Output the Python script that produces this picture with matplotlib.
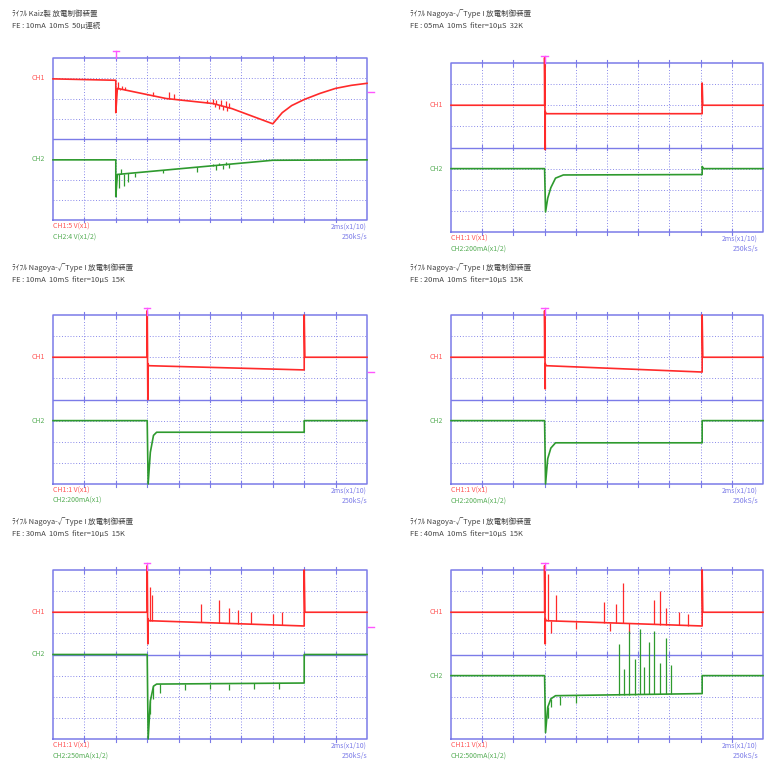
import matplotlib
matplotlib.use("Agg")
import matplotlib.pyplot as plt
import numpy as np

plt.rcParams['font.family'] = ['Noto Sans CJK JP', 'DejaVu Sans']

W, H = 764, 761

# ---------------- data (time and level in scope divisions) ----------------
titles = [
    ("ﾗｲﾌﾙ Kaiz製 放電制御装置", "FE : 10mA  10mS  50μ連続"),
    ("ﾗｲﾌﾙ Nagoya-√Type I 放電制御装置", "FE : 05mA  10mS  fiter=10μS  32K"),
    ("ﾗｲﾌﾙ Nagoya-√Type I 放電制御装置", "FE : 10mA  10mS  fiter=10μS  15K"),
    ("ﾗｲﾌﾙ Nagoya-√Type I 放電制御装置", "FE : 20mA  10mS  fiter=10μS  15K"),
    ("ﾗｲﾌﾙ Nagoya-√Type I 放電制御装置", "FE : 30mA  10mS  fiter=10μS  15K"),
    ("ﾗｲﾌﾙ Nagoya-√Type I 放電制御装置", "FE : 40mA  10mS  fiter=10μS  15K"),
]
ch1_scale = ["CH1:5 V(x1)", "CH1:1 V(x1)", "CH1:1 V(x1)", "CH1:1 V(x1)", "CH1:1 V(x1)", "CH1:1 V(x1)"]
ch2_scale = ["CH2:4 V(x1/2)", "CH2:200mA(x1/2)", "CH2:200mA(x1)", "CH2:200mA(x1/2)",
             "CH2:250mA(x1/2)", "CH2:500mA(x1/2)"]
time_scale = ["2ms(x1/10)"] * 6
rate = ["250kS/s"] * 6

trig_t = [2.0, 3.0, 3.0, 3.0, 3.0, 3.0]

# panel 1
p1_ch1_t = [0, 2.0, 2.0, 2.05, 3.6, 5.1, 5.7, 7.0, 7.3, 7.6, 8.0, 8.5, 9.0, 9.5, 10]
p1_ch1_v = [6.97, 6.9, 5.3, 6.5, 6.0, 5.75, 5.5, 4.75, 5.3, 5.65, 5.95, 6.25, 6.5, 6.65, 6.75]
p1_ch1_sp_t = [2.08, 2.12, 2.2, 2.3, 3.2, 3.7, 3.85, 4.9, 5.1, 5.15, 5.2, 5.3, 5.35, 5.4, 5.5, 5.55, 5.6]
p1_ch1_sp_a = [6.8, 6.4, 6.6, 6.55, 6.3, 6.3, 6.2, 5.95, 6.0, 5.6, 5.95, 5.5, 5.95, 5.45, 5.9, 5.4, 5.8]
p1_ch2_t = [0, 2.0, 2.0, 2.05, 7.0, 10]
p1_ch2_v = [2.97, 2.97, 1.15, 2.25, 2.95, 2.97]
p1_ch2_sp_t = [2.1, 2.15, 2.25, 2.4, 2.6, 3.5, 4.6, 5.1, 5.2, 5.3, 5.4, 5.5, 5.6]
p1_ch2_sp_a = [1.6, 2.5, 1.7, 1.9, 2.1, 2.3, 2.35, 2.75, 2.45, 2.8, 2.5, 2.85, 2.55]

# panel 2
p2_ch1_t = [0, 3.0, 3.0, 3.02, 3.02, 3.05, 8.05, 8.05, 8.07, 10]
p2_ch1_v = [6, 6, 8.25, 3.9, 5.7, 5.6, 5.6, 7.05, 6.0, 6.0]
p2_ch2_t = [0, 3.0, 3.03, 3.1, 3.2, 3.35, 3.6, 8.05, 8.05, 8.1, 10]
p2_ch2_v = [3, 3, 0.95, 1.6, 2.1, 2.55, 2.7, 2.72, 3.1, 3.0, 3.0]

# panel 3
p3_ch1_t = [0, 3.0, 3.0, 3.02, 3.02, 3.05, 8.0, 8.0, 8.02, 10]
p3_ch1_v = [6, 6, 8.2, 4.0, 5.7, 5.6, 5.4, 8.0, 6.0, 6.0]
p3_ch2_t = [0, 3.0, 3.03, 3.1, 3.2, 3.3, 8.0, 8.0, 10]
p3_ch2_v = [3, 3, 0.0, 1.5, 2.3, 2.45, 2.45, 3.0, 3.0]

# panel 4
p4_ch1_t = [0, 3.0, 3.0, 3.02, 3.02, 3.05, 8.05, 8.05, 8.07, 10]
p4_ch1_v = [6, 6, 8.2, 4.5, 5.7, 5.6, 5.3, 8.0, 6.0, 6.0]
p4_ch2_t = [0, 3.0, 3.03, 3.1, 3.2, 3.35, 8.05, 8.05, 10]
p4_ch2_v = [3, 3, 0.0, 1.2, 1.7, 1.95, 1.95, 3.0, 3.0]

# panel 5
p5_ch1_t = [0, 3.0, 3.0, 3.02, 3.02, 3.05, 8.0, 8.0, 8.02, 10]
p5_ch1_v = [6, 6, 8.2, 4.5, 5.7, 5.6, 5.35, 8.0, 6.0, 6.0]
p5_ch1_sp_t = [3.1, 3.15, 4.7, 5.3, 5.6, 5.9, 6.3, 7.0, 7.3]
p5_ch1_sp_a = [7.2, 6.8, 6.4, 6.6, 6.2, 6.1, 6.0, 5.9, 6.0]
p5_ch2_t = [0, 3.0, 3.03, 3.1, 3.2, 3.3, 8.0, 8.0, 10]
p5_ch2_v = [4, 4, 0.0, 1.8, 2.5, 2.6, 2.65, 4.0, 4.0]
p5_ch2_sp_t = [3.1, 3.2, 3.4, 4.2, 5.0, 5.6, 6.4, 7.2]
p5_ch2_sp_a = [1.2, 1.9, 2.2, 2.3, 2.35, 2.3, 2.35, 2.35]

# panel 6
p6_ch1_t = [0, 3.0, 3.0, 3.02, 3.02, 3.05, 8.05, 8.05, 8.07, 10]
p6_ch1_v = [6, 6, 8.2, 4.5, 5.7, 5.6, 5.35, 8.0, 6.0, 6.0]
p6_ch1_sp_t = [3.1, 3.2, 3.35, 4.0, 4.9, 5.1, 5.3, 5.5, 5.7, 6.5, 6.7, 6.9, 7.3, 7.6]
p6_ch1_sp_a = [7.8, 5.0, 6.8, 5.2, 6.5, 5.1, 6.4, 7.4, 5.0, 6.6, 7.0, 6.2, 6.0, 5.9]
p6_ch2_t = [0, 3.0, 3.03, 3.1, 3.2, 3.35, 8.05, 8.05, 10]
p6_ch2_v = [3, 3, 0.3, 1.5, 1.9, 2.05, 2.15, 3.0, 3.0]
p6_ch2_sp_t = [3.1, 3.2, 3.5, 4.0, 5.4, 5.55, 5.7, 5.9, 6.05, 6.2, 6.35, 6.5, 6.7, 6.9, 7.05]
p6_ch2_sp_a = [1.0, 1.5, 1.6, 1.7, 4.5, 3.3, 5.1, 3.8, 5.2, 3.4, 4.6, 5.1, 3.6, 4.8, 3.5]

panels = [
    (p1_ch1_t, p1_ch1_v, p1_ch2_t, p1_ch2_v, p1_ch1_sp_t, p1_ch1_sp_a, p1_ch2_sp_t, p1_ch2_sp_a, 7, 3),
    (p2_ch1_t, p2_ch1_v, p2_ch2_t, p2_ch2_v, [], [], [], [], 6, 3),
    (p3_ch1_t, p3_ch1_v, p3_ch2_t, p3_ch2_v, [], [], [], [], 6, 3),
    (p4_ch1_t, p4_ch1_v, p4_ch2_t, p4_ch2_v, [], [], [], [], 6, 3),
    (p5_ch1_t, p5_ch1_v, p5_ch2_t, p5_ch2_v, p5_ch1_sp_t, p5_ch1_sp_a, p5_ch2_sp_t, p5_ch2_sp_a, 6, 4),
    (p6_ch1_t, p6_ch1_v, p6_ch2_t, p6_ch2_v, p6_ch1_sp_t, p6_ch1_sp_a, p6_ch2_sp_t, p6_ch2_sp_a, 6, 3),
]

# ---------------- layout (pixels) ----------------
boxes = [(53, 58, 367, 220), (451, 63, 763, 232),
         (53, 315, 367, 484), (451, 315, 763, 484),
         (53, 570, 367, 739), (451, 570, 763, 739)]
title_xy = [(12, 14), (410, 14), (12, 268), (410, 268), (12, 522), (410, 522)]

RED = '#ff2a2a'
GREEN = '#2e9a2e'
BLUE = '#7b7be8'
PINK = '#ff55ff'
GREY = '#444444'

fig = plt.figure(figsize=(W / 100, H / 100), dpi=100)
fig.patch.set_facecolor('white')


def fx(x):
    return x / W


def fy(y):
    return 1 - y / H


for i, (box, pan) in enumerate(zip(boxes, panels)):
    x0, y0, x1, y1 = box
    ax = fig.add_axes([fx(x0), fy(y1), (x1 - x0) / W, (y1 - y0) / H])
    ax.set_xlim(0, 10)
    ax.set_ylim(0, 8)
    ax.axis('off')
    # grid
    for k in range(1, 10):
        ax.plot([k, k], [0, 8], color=BLUE, lw=0.6, ls=(0, (1.2, 2.2)))
    for k in range(1, 8):
        if k == 4:
            ax.plot([0, 10], [k, k], color=BLUE, lw=1.0)
        else:
            ax.plot([0, 10], [k, k], color=BLUE, lw=0.6, ls=(0, (1.2, 2.2)))
    ax.plot([0, 10, 10, 0, 0], [0, 0, 8, 8, 0], color=BLUE, lw=1.1, clip_on=False)
    for k in range(1, 10):
        for yy in (0, 4, 8):
            ax.plot([k, k], [yy - 0.12, yy + 0.12], color=BLUE, lw=0.8, clip_on=False)
    (c1t, c1v, c2t, c2v, s1t, s1a, s2t, s2a, b1, b2) = pan
    ax.plot(c1t, c1v, color=RED, lw=1.2, clip_on=False)
    ax.plot(c2t, c2v, color=GREEN, lw=1.2, clip_on=False)
    if len(s1t):
        base1 = np.interp(s1t, c1t, c1v)
        ax.vlines(s1t, base1, s1a, color=RED, lw=0.9)
    if len(s2t):
        base2 = np.interp(s2t, c2t, c2v)
        ax.vlines(s2t, base2, s2a, color=GREEN, lw=0.9)
    # trigger marker
    tt = trig_t[i]
    ax.plot([tt, tt], [8, 8.35], color=PINK, lw=1.0, clip_on=False)
    ax.plot([tt - 0.1, tt + 0.1], [8.35, 8.35], color=PINK, lw=1.0, clip_on=False)
    # channel labels
    ax.text(-0.25, b1, 'CH1', color=RED, fontsize=5, ha='right', va='center', alpha=0.8)
    ax.text(-0.25, b2, 'CH2', color=GREEN, fontsize=5, ha='right', va='center', alpha=0.8)
    # bottom labels
    fig.text(fx(x0), fy(y1 + 7), ch1_scale[i], color=RED, fontsize=5, va='center', alpha=0.8)
    fig.text(fx(x0), fy(y1 + 17), ch2_scale[i], color=GREEN, fontsize=5, va='center', alpha=0.8)
    fig.text(fx(min(x1, 758)), fy(y1 + 7), time_scale[i], color=BLUE, fontsize=5, ha='right', va='center')
    fig.text(fx(min(x1, 758)), fy(y1 + 17), rate[i], color=BLUE, fontsize=5, ha='right', va='center')
    # titles
    tx, ty = title_xy[i]
    fig.text(fx(tx), fy(ty), titles[i][0], color=GREY, fontsize=5.4, va='center')
    fig.text(fx(tx), fy(ty + 12), titles[i][1], color=GREY, fontsize=5.4, va='center')

# right-side trigger level markers (panels 1, 3 and 5)
fig.add_artist(plt.Line2D([fx(368), fx(374)], [fy(92), fy(92)], color=PINK, lw=1.0))
fig.add_artist(plt.Line2D([fx(368), fx(374)], [fy(372), fy(372)], color=PINK, lw=1.0))
fig.add_artist(plt.Line2D([fx(368), fx(374)], [fy(627), fy(627)], color=PINK, lw=1.0))

fig.savefig('out.png', dpi=100)
